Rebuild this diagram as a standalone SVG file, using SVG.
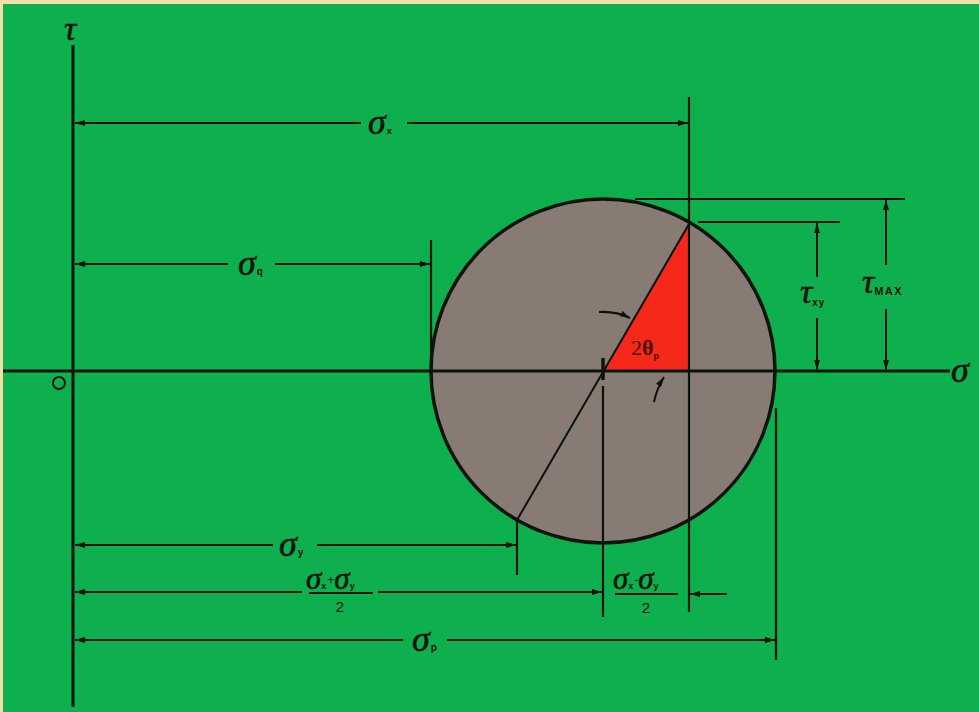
<svg xmlns="http://www.w3.org/2000/svg" width="979" height="712" viewBox="0 0 979 712">
<defs>
<marker id="ah" viewBox="0 0 10 6" refX="10" refY="3" markerWidth="10" markerHeight="6" markerUnits="userSpaceOnUse" orient="auto-start-reverse">
<path d="M0,0 L10,3 L0,6 z" fill="#0a140c"/>
</marker>
</defs>
<style>
.ax{stroke:#0a140c;stroke-width:3;fill:none;stroke-linecap:butt}
.dim{stroke:#0a140c;stroke-width:2;fill:none}
.ext{stroke:#0a140c;stroke-width:2.2;fill:none}
.g{font-family:"Liberation Serif","DejaVu Serif",serif;font-style:italic;fill:#0a140c;stroke:#0a140c;stroke-width:0.6}
.sub{font-family:"Liberation Sans","DejaVu Sans",sans-serif;font-style:normal;font-weight:bold;fill:#0a140c;stroke:none}
.num{font-family:"Liberation Sans","DejaVu Sans",sans-serif;font-style:normal;fill:#0a140c;stroke:none}
</style>
<rect x="0" y="0" width="979" height="712" fill="#f3dfa9"/>
<rect x="3" y="4" width="976" height="708" fill="#0db04c"/>

<g id="axes">
<line class="ax" x1="73" y1="45" x2="73" y2="707"/>
<line class="ax" x1="3" y1="371" x2="950" y2="371"/>
<text class="g" x="64" y="40" font-size="34">τ</text>
<text class="g" x="951" y="382" font-size="36">σ</text>
<circle cx="59" cy="383" r="6" fill="none" stroke="#0a140c" stroke-width="2"/>
</g>

<g id="mohr-circle">
<circle cx="603" cy="371" r="172" fill="#877b73" stroke="#0a140c" stroke-width="3.5"/>
<polygon points="604,371 689,371 689,225" fill="#f5281a" stroke="#7a1a10" stroke-width="1"/>
<line class="ax" x1="430" y1="371" x2="776" y2="371"/>
<line x1="689" y1="224" x2="517" y2="520" stroke="#0a140c" stroke-width="2"/>
<line x1="603" y1="358" x2="603" y2="380" stroke="#0a140c" stroke-width="3.5"/>
<text x="631" y="355" font-family="Liberation Serif,DejaVu Serif,serif" font-size="22" fill="#4a0c08">2<tspan font-weight="bold">θ</tspan><tspan font-family="Liberation Sans,sans-serif" font-weight="bold" font-size="9" dy="4" fill="#4a0c08">p</tspan></text>
<path d="M599,312 Q616,311 630,318" class="dim" marker-end="url(#ah)"/>
<path d="M654,402 Q657,388 664,377" class="dim" marker-end="url(#ah)"/>
</g>

<g id="extension-lines">
<line class="ext" x1="689" y1="97" x2="689" y2="612"/>
<line class="ext" x1="431" y1="240" x2="431" y2="371"/>
<line class="ext" x1="603" y1="386" x2="603" y2="617"/>
<line class="ext" x1="517" y1="520" x2="517" y2="575"/>
<line class="ext" x1="776" y1="408" x2="776" y2="660"/>
<line class="ext" x1="635" y1="199" x2="905" y2="199"/>
<line class="ext" x1="698" y1="222" x2="840" y2="222"/>
</g>

<g id="connectors">
<line class="dim" x1="75" y1="123" x2="361" y2="123" marker-start="url(#ah)"/>
<line class="dim" x1="407" y1="123" x2="688" y2="123" marker-end="url(#ah)"/>
<line class="dim" x1="75" y1="264" x2="228" y2="264" marker-start="url(#ah)"/>
<line class="dim" x1="275" y1="264" x2="430" y2="264" marker-end="url(#ah)"/>
<line class="dim" x1="75" y1="545" x2="273" y2="545" marker-start="url(#ah)"/>
<line class="dim" x1="317" y1="545" x2="516" y2="545" marker-end="url(#ah)"/>
<line class="dim" x1="75" y1="592" x2="302" y2="592" marker-start="url(#ah)"/>
<line class="dim" x1="378" y1="592" x2="602" y2="592" marker-end="url(#ah)"/>
<line class="dim" x1="727" y1="594" x2="690" y2="594" marker-end="url(#ah)"/>
<line class="dim" x1="75" y1="640" x2="403" y2="640" marker-start="url(#ah)"/>
<line class="dim" x1="447" y1="640" x2="775" y2="640" marker-end="url(#ah)"/>
<line class="dim" x1="817" y1="223" x2="817" y2="277" marker-start="url(#ah)"/>
<line class="dim" x1="817" y1="318" x2="817" y2="370" marker-end="url(#ah)"/>
<line class="dim" x1="886" y1="200" x2="886" y2="265" marker-start="url(#ah)"/>
<line class="dim" x1="886" y1="309" x2="886" y2="370" marker-end="url(#ah)"/>
</g>

<g id="label-sigma-x">
<text class="g" x="368" y="134" font-size="36">σ<tspan class="sub" font-size="9" dx="1">x</tspan></text>
</g>
<g id="label-sigma-q">
<text class="g" x="238" y="275" font-size="36">σ<tspan class="sub" font-size="10" dx="1">q</tspan></text>
</g>
<g id="label-sigma-y">
<text class="g" x="279" y="556" font-size="36">σ<tspan class="sub" font-size="10" dx="1">y</tspan></text>
</g>
<g id="label-sigma-p">
<text class="g" x="412" y="651" font-size="36">σ<tspan class="sub" font-size="10" dx="1">p</tspan></text>
</g>
<g id="label-avg">
<text class="g" x="306" y="589" font-size="31">σ<tspan class="sub" font-size="9">x</tspan><tspan class="num" font-size="12" dx="1" dy="-5">+</tspan><tspan dy="5">σ</tspan><tspan class="sub" font-size="9">y</tspan></text>
<line x1="309" y1="593" x2="373" y2="593" stroke="#0a140c" stroke-width="2"/>
<text class="num" x="340" y="612" font-size="15" text-anchor="middle">2</text>
</g>
<g id="label-radius-base">
<text class="g" x="613" y="589" font-size="31">σ<tspan class="sub" font-size="9">x</tspan><tspan class="num" font-size="12" dx="1" dy="-5">-</tspan><tspan dy="5">σ</tspan><tspan class="sub" font-size="9">y</tspan></text>
<line x1="615" y1="594" x2="678" y2="594" stroke="#0a140c" stroke-width="2"/>
<text class="num" x="646" y="613" font-size="15" text-anchor="middle">2</text>
</g>
<g id="label-tau-xy">
<text class="g" x="800" y="303" font-size="34">τ<tspan class="sub" font-size="10" dy="3" letter-spacing="1">xy</tspan></text>
</g>
<g id="label-tau-max">
<text class="g" x="862" y="293" font-size="34">τ<tspan class="sub" font-size="11" dy="2" letter-spacing="1.5">MAX</tspan></text>
</g>
</svg>
